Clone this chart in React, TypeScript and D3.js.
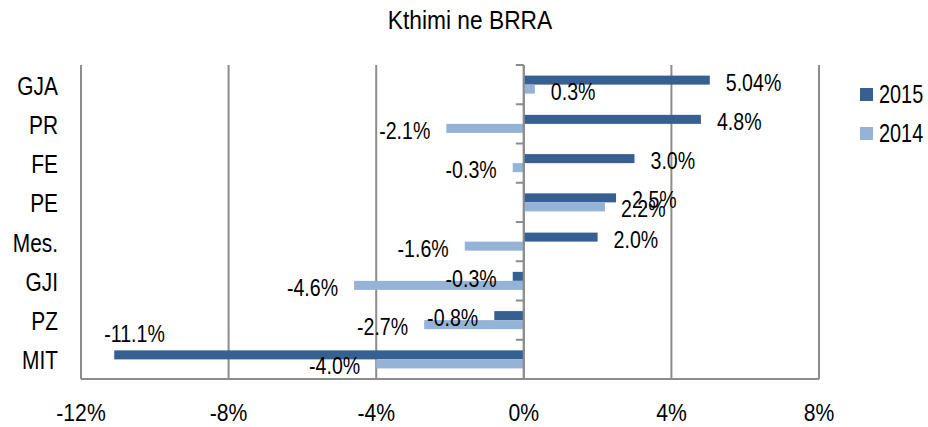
import React from "react";
import * as d3 from "d3";

const categories = ["GJA", "PR", "FE", "PE", "Mes.", "GJI", "PZ", "MIT"];
const seriesNames = ["2015", "2014"];
const values2015 = [5.04, 4.8, 3.0, 2.5, 2.0, -0.3, -0.8, -11.1];
const values2014 = [0.3, -2.1, -0.3, 2.2, -1.6, -4.6, -2.7, -4.0];
const labels2015 = ["5.04%", "4.8%", "3.0%", "2.5%", "2.0%", "-0.3%", "-0.8%", "-11.1%"];
const labels2014 = ["0.3%", "-2.1%", "-0.3%", "2.2%", "-1.6%", "-4.6%", "-2.7%", "-4.0%"];
const xTicks = [-12, -8, -4, 0, 4, 8];

const W = 928;
const H = 427;
const margin = { top: 65, right: 110, bottom: 48, left: 81 };
const colors = ["#376092", "#95b3d7"];
const gridColor = "#8c8c8c";
const font = "'Liberation Sans', Arial, sans-serif";

// text drawn a bit condensed, like the original export
const T = ({ x, y, size, sx, anchor = "start", dy = "0.35em", children }: any) => (
  <g transform={`translate(${x},${y}) scale(${sx},1)`}>
    <text x={0} y={0} dy={dy} textAnchor={anchor} fontFamily={font} fontSize={size} fill="#000">
      {children}
    </text>
  </g>
);

const App = () => {
  const x = d3.scaleLinear().domain([-12, 8]).range([margin.left, W - margin.right + 1]);
  const y0 = d3.scaleBand<string>().domain(categories).range([margin.top, H - margin.bottom]);
  const bw = y0.bandwidth();
  const gap = bw * 0.54;
  const y1 = d3.scaleBand<string>().domain(seriesNames).range([gap / 2, bw - gap / 2]);
  const bh = y1.bandwidth();

  const rows = seriesNames.map((s, si) => ({
    name: s,
    color: colors[si],
    values: si === 0 ? values2015 : values2014,
    labels: si === 0 ? labels2015 : labels2014,
  }));

  const plotTop = margin.top;
  const plotBottom = H - margin.bottom;
  const x0 = x(0);

  return (
    <svg width={W} height={H} style={{ position: "absolute", left: 0, top: 0, background: "#fff" }}>
      <T x={470} y={29} dy="0" size={25} sx={0.91} anchor="middle">
        Kthimi ne BRRA
      </T>

      {/* vertical gridlines */}
      {xTicks.map(t => (
        <line key={t} x1={x(t)} x2={x(t)} y1={plotTop} y2={plotBottom} stroke={gridColor} strokeWidth={2} />
      ))}
      <line x1={x(-12)} x2={x(8)} y1={plotBottom} y2={plotBottom} stroke={gridColor} strokeWidth={2} />

      {/* category tick marks on the zero axis */}
      {[...categories.map(c => y0(c) as number), plotBottom].map((yy, i) => (
        <line key={i} x1={x0 - 8} x2={x0} y1={yy} y2={yy} stroke={gridColor} strokeWidth={2} />
      ))}

      {/* bars */}
      {rows.map(r =>
        r.values.map((v, i) => (
          <rect
            key={r.name + i}
            x={Math.min(x(v), x0)}
            y={(y0(categories[i]) as number) + (y1(r.name) as number)}
            width={Math.abs(x(v) - x0)}
            height={bh}
            fill={r.color}
          />
        ))
      )}

      {/* zero axis on top of bars */}
      <line x1={x0} x2={x0} y1={plotTop} y2={plotBottom} stroke={gridColor} strokeWidth={2} />

      {/* data labels */}
      {rows.map(r =>
        r.values.map((v, i) => {
          const cy = (y0(categories[i]) as number) + (y1(r.name) as number) + bh / 2 + 2;
          const end = x(v);
          const est = r.labels[i].length * 10;
          if (v < 0 && end - 16 - est < x.range()[0]) {
            return (
              <T key={r.name + i} x={end - 10} y={cy - bh - 14} size={24.5} sx={0.8}>
                {r.labels[i]}
              </T>
            );
          }
          return (
            <T
              key={r.name + i}
              x={v >= 0 ? end + 16 : end - 16}
              y={cy}
              size={24.5}
              sx={0.8}
              anchor={v >= 0 ? "start" : "end"}
            >
              {r.labels[i]}
            </T>
          );
        })
      )}

      {/* category labels */}
      {categories.map(c => (
        <T key={c} x={58} y={(y0(c) as number) + bw / 2 + 1} size={25.5} sx={0.82} anchor="end">
          {c}
        </T>
      ))}

      {/* x tick labels */}
      {xTicks.map(t => (
        <T key={t} x={x(t)} y={421} dy="0" size={23.5} sx={0.9} anchor="middle">
          {t + "%"}
        </T>
      ))}

      {/* legend */}
      {rows.map((r, i) => (
        <g key={r.name}>
          <rect x={860} y={88 + i * 39} width={13} height={13} fill={r.color} />
          <T x={879} y={94 + i * 39} size={26.5} sx={0.75}>
            {r.name}
          </T>
        </g>
      ))}
    </svg>
  );
};

export default App;
